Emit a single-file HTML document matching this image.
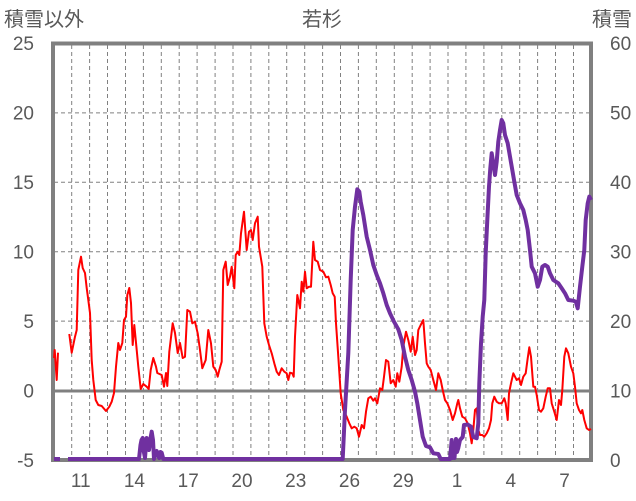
<!DOCTYPE html>
<html><head><meta charset="utf-8"><style>
html,body{margin:0;padding:0;background:#fff;}
svg{display:block;}
text{font-family:"Liberation Sans","Noto Sans CJK JP",sans-serif;fill:#595959;}
</style></head><body>
<svg width="636" height="501" viewBox="0 0 636 501" xmlns="http://www.w3.org/2000/svg">
<rect x="0" y="0" width="636" height="501" fill="#fff"/>
<g stroke="#808080" stroke-width="1" stroke-dasharray="4,3" fill="none">
<line x1="54" y1="112.9" x2="591" y2="112.9"/>
<line x1="54" y1="182.3" x2="591" y2="182.3"/>
<line x1="54" y1="251.7" x2="591" y2="251.7"/>
<line x1="54" y1="321.1" x2="591" y2="321.1"/>
<line x1="71.7" y1="45" x2="71.7" y2="458"/><line x1="89.6" y1="45" x2="89.6" y2="458"/><line x1="107.5" y1="45" x2="107.5" y2="458"/><line x1="125.5" y1="45" x2="125.5" y2="458"/><line x1="143.4" y1="45" x2="143.4" y2="458"/><line x1="161.3" y1="45" x2="161.3" y2="458"/><line x1="179.2" y1="45" x2="179.2" y2="458"/><line x1="197.1" y1="45" x2="197.1" y2="458"/><line x1="215.1" y1="45" x2="215.1" y2="458"/><line x1="233.0" y1="45" x2="233.0" y2="458"/><line x1="250.9" y1="45" x2="250.9" y2="458"/><line x1="268.8" y1="45" x2="268.8" y2="458"/><line x1="286.7" y1="45" x2="286.7" y2="458"/><line x1="304.7" y1="45" x2="304.7" y2="458"/><line x1="322.6" y1="45" x2="322.6" y2="458"/><line x1="340.5" y1="45" x2="340.5" y2="458"/><line x1="358.4" y1="45" x2="358.4" y2="458"/><line x1="376.3" y1="45" x2="376.3" y2="458"/><line x1="394.3" y1="45" x2="394.3" y2="458"/><line x1="412.2" y1="45" x2="412.2" y2="458"/><line x1="430.1" y1="45" x2="430.1" y2="458"/><line x1="448.0" y1="45" x2="448.0" y2="458"/><line x1="465.9" y1="45" x2="465.9" y2="458"/><line x1="483.9" y1="45" x2="483.9" y2="458"/><line x1="501.8" y1="45" x2="501.8" y2="458"/><line x1="519.7" y1="45" x2="519.7" y2="458"/><line x1="537.6" y1="45" x2="537.6" y2="458"/><line x1="555.5" y1="45" x2="555.5" y2="458"/><line x1="573.5" y1="45" x2="573.5" y2="458"/>
</g>
<line x1="54" y1="391" x2="591" y2="391" stroke="#808080" stroke-width="3"/>
<rect x="53" y="43.5" width="538" height="416.5" fill="none" stroke="#808080" stroke-width="4"/>
<g fill="none" stroke="#FF0000" stroke-width="2" stroke-linejoin="round">
<polyline points="54,358 54.7,350 56.7,380 58,352.7"/>
<polyline points="69.3,334 71.7,352.7 75,336.7 76.7,330 78.3,270 81,256.7 82.7,268 85,273 86.7,288 88.3,300 90,313 91.7,360 93.3,380 95.7,400 98.3,405 101.7,406 106,411 109.3,406.7 111.7,401.7 114,393 116,366.7 118.3,343 120,350 122.3,343 124,320 126,316.7 127.3,295 129.3,288 131,303 132.7,345 134.3,325 136.7,350 138.3,366.7 140.7,389 143.3,384 146.7,386.7 148.7,389 150.7,370 153.3,358 156,366.7 157.3,373 161.7,375 164,386.7 166,373 167.3,386 169.3,351.7 172.7,323.3 175,333 177.7,353 180,343 182.7,358 185,356.7 187.3,310 190,311.7 192.3,323.3 195,321.7 197.7,333.3 200,350 202.3,368.3 205.7,360 208.3,330 211,343.3 213.3,366.7 215.7,370 217.7,376.7 219.3,370 221.7,361.7 223.3,270 225.7,261.7 227.7,285 230,276.7 231.7,266.7 234.3,288.3 235.7,255 237.7,251.7 239.3,255 241,233.3 244,211.7 246.7,250 249,231.7 251,230 252.7,240 255,223.3 257.7,216.7 259,246.7 262.3,266.7 264.3,323.3 266.7,336.7 269,345 271.7,353.3 274.3,363.3 276.7,371.7 279,375 281.7,368.3 284.3,371.7 286.7,373.3 288.3,380 290,372.7 292.3,373.3 293.7,376.7 295,336.7 297.3,295 300,308.3 301.7,281.7 303.3,291.7 305,271.7 306.7,288.3 309,286.7 311,286.7 313.3,241.7 315,260 317.7,261.7 320,270 323.3,271.7 326,277.3 328.3,276.7 330.7,285 332.7,293.3 334.7,296.7 336,323.3 338.3,356.7 340.7,393.3 343.3,410 346.7,416.7 349.3,423.3 351.7,428.3 354.3,426.7 356.7,428.3 359,436.7 361.7,425 364,428.3 366,411.7 368.3,398.3 370.7,396.7 373.3,400.7 375,398.3 377.3,403.3 380,388.3 382.3,390 384,376.7 386,360 388.3,361.7 390.7,383.3 393.3,380 395.7,386.7 397.3,373.3 399.3,381.7 401.7,366.7 403.3,346.7 406,331.7 408.3,340 410.7,351.7 412.7,336.7 415,355 416.7,350 418.3,330 420.7,325 423.3,320 425,343.3 426.7,363.3 428.3,366.7 430.7,370 433.3,380 436,390 438.3,373.3 440.7,380 442.7,390 445,400 447.3,403.3 450,410 452.7,420 455,413.3 457.3,403.3 458.3,400 460,408.3 462.3,416.7 465,418.3 467.7,423.3 470,433.3 471.7,443.3 473.3,430 475,410 476.7,408.3 478.3,430 480,435 482.3,435 484.3,436.7 486.7,433.3 489,428.3 491,420 492.3,403.3 494.3,396.7 496.7,401.7 499,403.3 501.7,403.3 504.3,398.3 505.7,403.3 507.7,420 509,393.3 511,383.3 513.3,373.3 515,376.7 516.7,380 519,378.3 521,385 523.3,376.7 525.7,373.3 527.7,358.3 529.3,347.3 531,356.7 533.3,386.7 535,386.7 536.7,395 539,410 541,411.7 543.3,408.3 545.7,396.7 547.7,388.3 550,388.3 551.7,403.3 554.3,411.7 556.7,420 559,400 561,405 562.3,390 564.3,356.7 566,348.3 568.3,353.3 571,366.7 573.3,373.3 575,386.7 576.7,403.3 579,410 581,413.3 582.3,410 584.3,420 586.7,428.3 589,430 591,429"/>
</g>
<g fill="none" stroke="#7030A0" stroke-width="4" stroke-linejoin="round">
<polyline points="54,459 60,459"/>
<polyline points="68,459 139,459 140.5,445 141.5,440 142.7,438 143.5,450 145,458 146,445 146.7,438 148,444 149,450 150.5,438 151.7,431.7 153,440 154,459 155.5,452 156.7,451 158,456 159.3,458 160.5,452 161.7,452.7 163.3,459 342.7,459 345,410 348.3,353.3 350.7,280 352.7,230 355,206.7 357.3,189.3 359.3,191.7 360.7,201.7 363.3,215 366.7,236.7 370,250 373.3,265 376.7,275 380,283.3 383.3,293.3 386.7,305 390,313.3 394,321.7 398.3,329.3 401.7,340 405,356.7 408.3,370 411.7,380 415,391.7 417.3,403.3 420,420 422.7,436.7 426,446 430,447.3 433.3,453.3 438.3,454 440.7,459 450,459 451.7,440 452.5,458 453.3,447 454.5,458 456,439 457,452 458.3,448 460,440 462.7,437 464,425 467.7,424.5 471,426.7 473.3,437 476.7,438.3 478.3,423.3 479.3,383.3 481,343.3 482.7,316.7 484.3,300 485.7,253.3 487.3,220 489,186.7 490.3,168.3 491.7,153.3 493.3,163.3 495,175 496.7,161.7 498.3,141.7 500,130 501.7,120 503.3,123.3 505,135 507.7,143.3 510,156.7 512.3,170 514.3,181.7 516.7,195 520,203.3 523.3,210 525.7,220 527.7,230 530,250 531.7,266.7 535,273.3 537.7,286.7 540,280 542.3,266.7 545,265 547.7,266.7 550,273.3 553.3,280 558.3,283.3 561.7,288.3 565,293.3 568.3,300 573.3,300.7 575.7,301.7 577.7,308.3 580,286.7 582.3,266.7 584.3,250 585.7,220 587.7,203.3 589.3,196.7 591,200"/>
</g>
<g font-size="19" text-anchor="end">
<text x="34" y="50">25</text>
<text x="34" y="119.5">20</text>
<text x="34" y="189">15</text>
<text x="34" y="258.5">10</text>
<text x="34" y="328">5</text>
<text x="34" y="397.5">0</text>
<text x="34" y="467">-5</text>
</g>
<g font-size="19" text-anchor="start">
<text x="610" y="50">60</text>
<text x="610" y="119.5">50</text>
<text x="610" y="189">40</text>
<text x="610" y="258.5">30</text>
<text x="610" y="328">20</text>
<text x="610" y="397.5">10</text>
<text x="610" y="467">0</text>
</g>
<g font-size="19" text-anchor="middle">
<text x="80.7" y="487">11</text>
<text x="134.4" y="487">14</text>
<text x="188.2" y="487">17</text>
<text x="242" y="487">20</text>
<text x="295.7" y="487">23</text>
<text x="349.5" y="487">26</text>
<text x="403.2" y="487">29</text>
<text x="457" y="487">1</text>
<text x="510.8" y="487">4</text>
<text x="564.5" y="487">7</text>
</g>
<text x="4" y="26" font-size="20">積雪以外</text>
<text x="322" y="26" font-size="20" text-anchor="middle">若杉</text>
<text x="632" y="26" font-size="20" text-anchor="end">積雪</text>
</svg>
</body></html>
